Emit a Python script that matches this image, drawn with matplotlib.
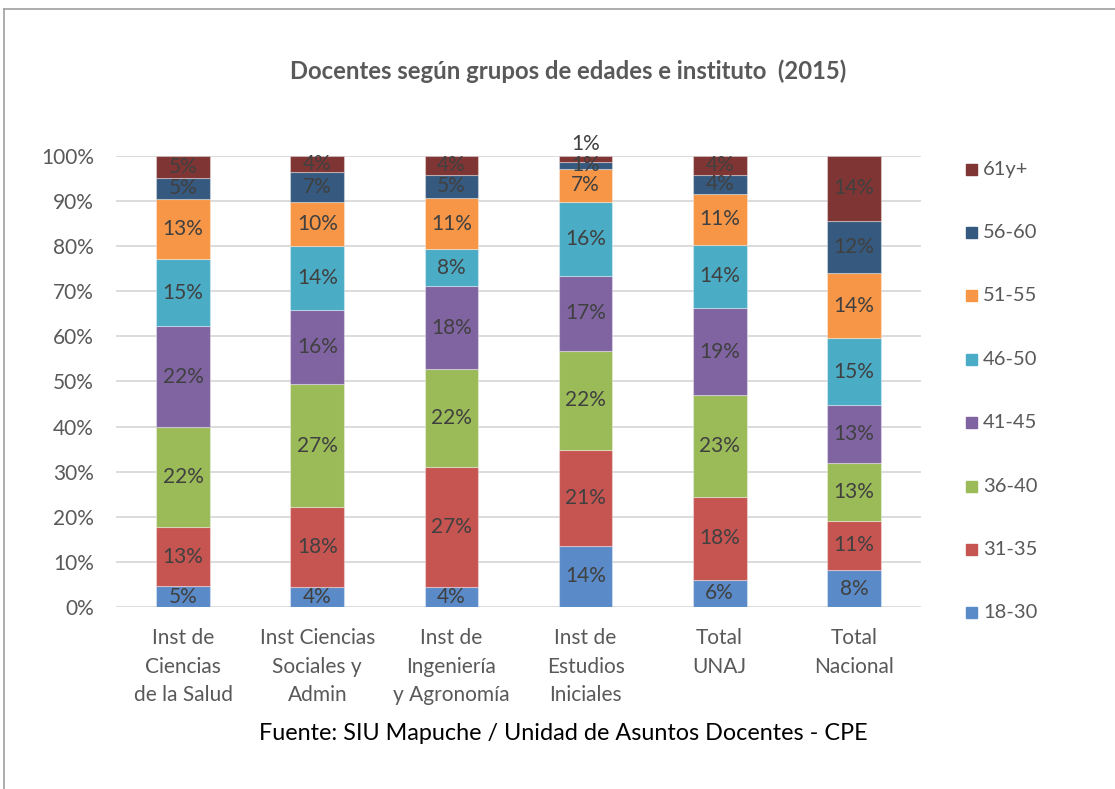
import matplotlib
matplotlib.use("Agg")
import matplotlib.pyplot as plt
from matplotlib.patches import Rectangle
from matplotlib.lines import Line2D
import numpy as np

plt.rcParams['font.family'] = ['Lato', 'DejaVu Sans']

categories = ["Inst de\nCiencias\nde la Salud", "Inst Ciencias\nSociales y\nAdmin",
              "Inst de\nIngeniería\ny Agronomía", "Inst de\nEstudios\nIniciales",
              "Total\nUNAJ", "Total\nNacional"]
groups = ["18-30", "31-35", "36-40", "41-45", "46-50", "51-55", "56-60", "61y+"]

v_18_30 = [4.6, 4.4, 4.4, 13.6, 6.0, 8.2]
v_31_35 = [13.1, 17.8, 26.6, 21.2, 18.4, 10.9]
v_36_40 = [22.2, 27.2, 21.7, 22.0, 22.6, 12.8]
v_41_45 = [22.4, 16.4, 18.4, 16.6, 19.3, 12.9]
v_46_50 = [14.8, 14.2, 8.2, 16.4, 14.0, 14.8]
v_51_55 = [13.3, 9.8, 11.4, 7.4, 11.3, 14.4]
v_56_60 = [4.8, 6.6, 5.1, 1.4, 4.2, 11.6]
v_61 = [4.8, 3.6, 4.2, 1.4, 4.2, 14.4]

series = [v_18_30, v_31_35, v_36_40, v_41_45, v_46_50, v_51_55, v_56_60, v_61]
colors = ["#5A8BC8", "#C65552", "#9BBB59", "#8064A2", "#4BACC6", "#F79646", "#36597F", "#7F3533"]

W, H = 1115, 789
fig = plt.figure(figsize=(W / 100, H / 100), dpi=100)
ax = fig.add_axes([116 / W, 1 - 607 / H, (921 - 116) / W, (607 - 156) / H])

x = np.arange(len(categories))
data = np.array(series, dtype=float)
totals = data.sum(axis=0)
pct = data / totals * 100
bottom = np.zeros(len(categories))
label_color = "#404040"
for gi, (vals, raw, col) in enumerate(zip(pct, data, colors)):
    ax.bar(x, vals, width=0.4, bottom=bottom, color=col, zorder=3,
           edgecolor=(1, 1, 1, 0.35), linewidth=0.8)
    for xi in range(len(categories)):
        yc = bottom[xi] + vals[xi] / 2
        if vals[xi] < 2 and gi == len(series) - 1:
            yc = 102.6
        ax.text(x[xi], yc, f"{raw[xi]:.0f}%", ha="center", va="center",
                fontsize=15, color=label_color, zorder=4, clip_on=False)
    bottom += vals

ax.set_xlim(-0.5, len(categories) - 0.5)
ax.set_ylim(0, 100)
ax.set_yticks(np.arange(0, 101, 10))
ax.set_yticklabels([f"{t}%" for t in range(0, 101, 10)])
ax.set_xticks(x)
ax.set_xticklabels(categories, linespacing=1.55)
ax.tick_params(axis="both", length=0, labelsize=15, labelcolor="#595959")
ax.tick_params(axis="y", pad=16)
ax.tick_params(axis="x", pad=15)
ax.grid(axis="y", color="#D9D9D9", linewidth=1.3, zorder=0)
for s in ax.spines.values():
    s.set_visible(False)

fig.text(568 / W, 1 - 71 / H, "Docentes según grupos de edades e instituto  (2015)",
         ha="center", va="center", fontsize=17.2, fontweight="bold", color="#595959")
fig.text(563 / W, 1 - 734 / H, "Fuente: SIU Mapuche / Unidad de Asuntos Docentes - CPE",
         ha="center", va="center", fontsize=16.8, color="#000000")

# legend (top = last series)
leg_y0 = 169
for i, gi in enumerate(range(len(groups) - 1, -1, -1)):
    yc = leg_y0 + i * 63.4
    fig.patches.append(Rectangle((966 / W, 1 - (yc + 5.5) / H), 11 / W, 11 / H,
                                 transform=fig.transFigure, color=colors[gi]))
    fig.text(983 / W, 1 - yc / H, groups[gi], ha="left", va="center",
             fontsize=14.5, color="#595959")

# border
fig.lines.append(Line2D([4 / W, 1], [1 - 9 / H, 1 - 9 / H], transform=fig.transFigure,
                        color="#A0A0A0", linewidth=1.2))
fig.lines.append(Line2D([4 / W, 4 / W], [0, 1 - 9 / H], transform=fig.transFigure,
                        color="#A0A0A0", linewidth=1.2))

fig.savefig("out.png", dpi=100)
